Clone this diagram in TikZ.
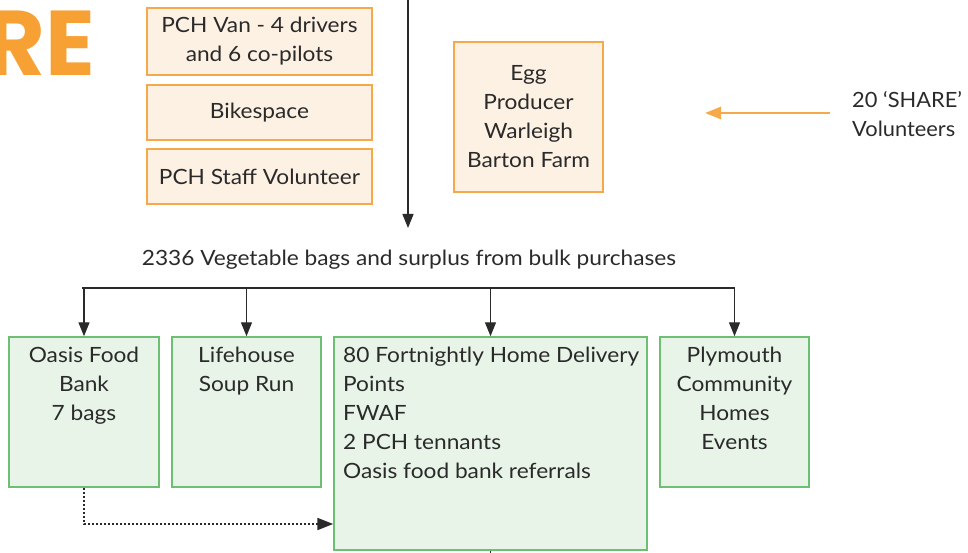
\documentclass[tikz,border=0pt]{standalone}
\usepackage{fontspec}
\setmainfont{Lato}[FakeStretch=1.08]
\newfontfamily\volfont{Lato}[FakeStretch=1.04]
\newfontfamily\heavyfont{Poppins}
\usetikzlibrary{arrows.meta}
\definecolor{ofill}{HTML}{FDF1E4}
\definecolor{oborder}{HTML}{F6A94A}
\definecolor{gfill}{HTML}{E8F4E7}
\definecolor{gborder}{HTML}{6DC073}
\definecolor{orangetxt}{HTML}{F7A134}
\definecolor{txt}{HTML}{2A2A2A}
\newcommand{\fs}{\fontsize{21}{29}\selectfont}
\tikzset{
  obox/.style={draw=oborder, fill=ofill, line width=1.5pt, inner sep=0pt, align=center, text=txt, font=\fs},
  gbox/.style={draw=gborder, fill=gfill, line width=1.5pt, inner sep=0pt},
  lbl/.style={inner sep=0pt, text=txt, font=\fs},
  arr/.style={-{Triangle[length=14pt,width=11pt]}, line width=1.4pt, draw=txt},
  dotarr/.style={-{Triangle[length=16pt,width=12pt]}, line width=2pt, draw=txt, dotted},
  oarr/.style={-{Triangle[length=16pt,width=12pt]}, line width=2.5pt, draw=oborder},
}
\begin{document}
\begin{tikzpicture}[x=1pt,y=-1pt]
\useasboundingbox (0,0) rectangle (968,553);
% big orange text
\node[anchor=south east, inner sep=0pt, text=orangetxt, font=\heavyfont\bfseries\fontsize{92}{92}\selectfont] (re) at (95,76) {RE};
% orange boxes
\node[obox, minimum width=225pt, minimum height=67pt] (van) at (259.5,41.5) {PCH Van - 4 drivers\\and 6 co-pilots};
\node[obox, minimum width=225pt, minimum height=55pt] (bike) at (259.5,112.5) {Bikespace};
\node[obox, minimum width=225pt, minimum height=55pt] (staff) at (259.5,176.5) {PCH Staff Volunteer};
\node[obox, minimum width=149pt, minimum height=150pt] (egg) at (528.5,117) {Egg\\Producer\\Warleigh\\Barton Farm};
% volunteers
\node[lbl, anchor=west, align=left, font=\volfont\fs] (vol) at (852,114) {20 ‘SHARE’\\Volunteers};
\coordinate (volto) at (705,113);
\draw[oarr, shorten <=22pt] (vol.west |- volto) -- (volto);
% top arrow
\coordinate (topin) at (408,-3);
\node[lbl] (veg) at (409,260) {2336 Vegetable bags and surplus from bulk purchases};
\draw[arr] (topin) -- (topin |- 0,228);
% green boxes
\node[gbox, minimum width=150pt, minimum height=150pt] (oasis) at (84,412) {};
\node[gbox, minimum width=149pt, minimum height=150pt] (life) at (246.5,412) {};
\node[gbox, minimum width=313pt, minimum height=213pt] (home) at (490.5,443.5) {};
\node[gbox, minimum width=149pt, minimum height=150pt] (ply) at (734.5,412) {};
\node[lbl, anchor=north, align=center] (oasist) at (84,347) {Oasis Food\\Bank\\7 bags};
\node[lbl, anchor=north, align=center] (lifet) at (246.5,347) {Lifehouse\\Soup Run};
\node[lbl, anchor=north west, align=left] (homet) at (343,347) {80 Fortnightly Home Delivery\\Points\\FWAF\\2 PCH tennants\\Oasis food bank referrals};
\node[lbl, anchor=north, align=center] (plyt) at (734.5,347) {Plymouth\\Community\\Homes\\Events};
% bus
\coordinate (busL) at (82,288);
\coordinate (busR) at (735,288);
\draw[line width=1.4pt, draw=txt] (busL) -- (busR);
\draw[arr] (oasis.north |- busL) -- (oasis.north);
\draw[arr] (life.north |- busL) -- (life.north);
\draw[arr] (home.north |- busL) -- (home.north);
\draw[arr] (ply.north |- busL) -- (ply.north);
% dotted
\coordinate (doty) at (0,524);
\draw[dotarr] (oasis.south) |- (home.west |- doty);
% bottom stub
\coordinate (homeout) at (490.5,556);
\draw[line width=1.4pt, draw=txt] (home.south) -- (homeout);
\end{tikzpicture}
\end{document}
